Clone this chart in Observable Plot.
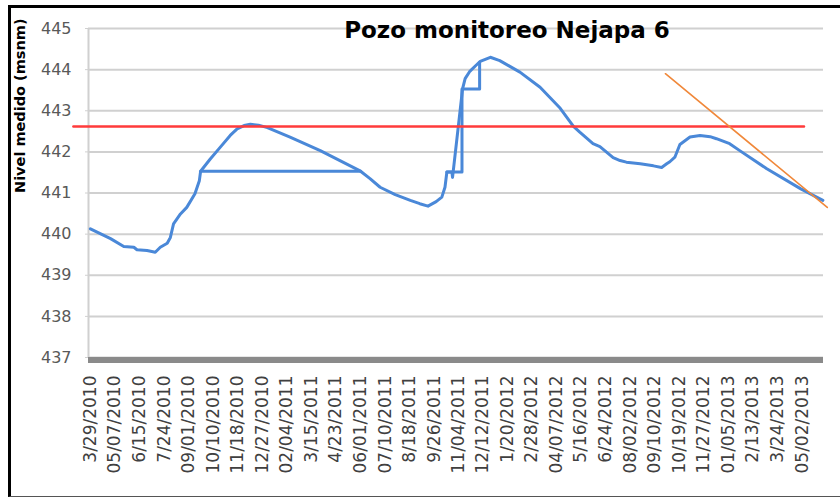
<!DOCTYPE html>
<html><head><meta charset="utf-8">
<script src="https://cdn.jsdelivr.net/npm/d3@7"></script>
<script src="https://cdn.jsdelivr.net/npm/@observablehq/plot@0.6"></script>
<style>
html,body{margin:0;padding:0;background:#fff;}
#wrap{position:relative;width:840px;height:497px;overflow:hidden;}
#border{position:absolute;left:8px;top:5px;width:840px;height:492px;box-sizing:border-box;border-top:3px solid #000;border-left:3px solid #000;border-bottom:1px solid #555;pointer-events:none;}
</style></head><body>
<div id="wrap"><div id="chart"></div><div id="border"></div></div>
<script>
const titulo = "Pozo monitoreo Nejapa 6";
const etiquetaY = "Nivel medido (msnm)";
const yTicks = [437, 438, 439, 440, 441, 442, 443, 444, 445];
const xTickLabels = ["3/29/2010","05/07/2010","6/15/2010","7/24/2010","09/01/2010","10/10/2010","11/18/2010","12/27/2010","02/04/2011","3/15/2011","4/23/2011","06/01/2011","07/10/2011","8/18/2011","9/26/2011","11/04/2011","12/12/2011","1/20/2012","2/28/2012","04/07/2012","5/16/2012","6/24/2012","08/02/2012","09/10/2012","10/19/2012","11/27/2012","01/05/2013","2/13/2013","3/24/2013","05/02/2013"];
const xDomain = ["2010-03-26", "2013-06-05"];

// Serie principal (nivel medido)
const fechas = ["2010-03-29","2010-04-30","2010-05-21","2010-06-06","2010-06-11","2010-06-27","2010-07-10","2010-07-18","2010-07-29","2010-08-03","2010-08-08","2010-08-19","2010-08-29","2010-09-11","2010-09-18","2010-09-20",
"2010-10-05","2010-10-21","2010-11-06","2010-11-17","2010-11-28","2010-12-08","2010-12-21","2011-01-04","2011-02-09","2011-03-29","2011-04-30","2011-06-01",
"2011-06-16","2011-07-02","2011-07-26","2011-08-19","2011-09-03","2011-09-16","2011-09-29","2011-10-08","2011-10-13","2011-10-16","2011-10-24","2011-10-25","2011-11-10","2011-11-14","2011-11-21","2011-12-01","2011-12-08","2011-12-24",
"2012-01-08","2012-01-24","2012-02-09","2012-03-12","2012-04-13","2012-05-04","2012-05-14","2012-06-04","2012-06-15","2012-07-06","2012-07-17","2012-07-27","2012-08-18","2012-09-08","2012-09-21","2012-09-29","2012-10-04","2012-10-12","2012-10-20","2012-11-05","2012-11-21","2012-12-07","2012-12-17",
"2013-01-07","2013-01-23","2013-03-07","2013-04-30","2013-06-04"];
const nivel = [440.13,439.89,439.70,439.68,439.62,439.60,439.56,439.68,439.78,439.92,440.25,440.49,440.65,440.98,441.30,441.53,
441.82,442.11,442.40,442.56,442.64,442.67,442.65,442.59,442.36,442.03,441.78,441.53,
441.35,441.14,440.96,440.82,440.74,440.68,440.79,440.90,441.14,441.51,441.51,441.38,443.54,443.78,443.95,444.10,444.20,444.30,
444.22,444.08,443.94,443.57,443.06,442.62,442.48,442.20,442.13,441.86,441.79,441.75,441.71,441.66,441.62,441.71,441.76,441.87,442.18,442.36,442.40,442.37,442.32,
442.20,442.03,441.59,441.10,440.82];

// Tramos escalonados de la misma serie
const tramoFechas = ["2010-09-20","2011-06-01","2011-10-16","2011-11-09","2011-11-09","2011-12-07","2011-12-07"];
const tramoNivel = [441.53,441.53,441.51,441.51,443.53,443.53,444.18];
const tramoId = [1,1,2,2,2,2,2];

// Nivel de referencia (rojo) y tendencia (naranja)
const refFechas = ["2010-03-02","2013-05-05"];
const refNivel = [442.62, 442.62];
const tendFechas = ["2012-09-27","2013-06-11"];
const tendNivel = [443.90, 440.65];

const parse = d3.timeParse("%Y-%m-%d");
const parseTick = d3.timeParse("%m/%d/%Y");
const serie = fechas.map((f, i) => ({fecha: parse(f), nivel: nivel[i]}));
const tramos = tramoFechas.map((f, i) => ({fecha: parse(f), nivel: tramoNivel[i], tramo: tramoId[i]}));
const referencia = refFechas.map((f, i) => ({fecha: parse(f), nivel: refNivel[i]}));
const tendencia = tendFechas.map((f, i) => ({fecha: parse(f), nivel: tendNivel[i]}));
const tickDates = xTickLabels.map(parseTick);
const labelByTime = new Map(tickDates.map((d, i) => [+d, xTickLabels[i]]));
const x0 = parse(xDomain[0]);
const azul = "#4a88d8";

const chart = Plot.plot({
  width: 840, height: 497,
  marginTop: 28, marginBottom: 140, marginLeft: 88, marginRight: 17,
  style: {fontFamily: "DejaVu Sans", background: "transparent", overflow: "visible"},
  x: {type: "time", domain: xDomain.map(parse)},
  y: {domain: [437, 445]},
  marks: [
    Plot.gridY(yTicks, {stroke: "#d0d0d0", strokeOpacity: 1, strokeWidth: 2}),
    Plot.ruleX([x0], {stroke: "#d0d0d0", strokeWidth: 2}),
    Plot.axisY(yTicks, {tickSize: 3, stroke: "#d0d0d0", tickPadding: 14, fontSize: 16, fill: "#595959", label: null}),
    Plot.axisX(tickDates, {tickFormat: d => labelByTime.get(+d), tickRotate: -90, tickSize: 0, tickPadding: 18, fontSize: 17, fill: "#404040", label: null}),
    Plot.ruleY([437], {stroke: "#8a8a8a", strokeWidth: 6, dy: 2.5}),
    Plot.line(tramos, {x: "fecha", y: "nivel", z: "tramo", stroke: azul, strokeWidth: 3}),
    Plot.line(serie, {x: "fecha", y: "nivel", stroke: azul, strokeWidth: 3}),
    Plot.line(referencia, {x: "fecha", y: "nivel", stroke: "#ff3b3b", strokeWidth: 2.5}),
    Plot.line(tendencia, {x: "fecha", y: "nivel", stroke: "#f0883a", strokeWidth: 1.6}),
    Plot.text([titulo], {text: d => d, frameAnchor: "top", dx: 51, dy: 9, lineAnchor: "bottom", fontSize: 23, fontWeight: "bold", fill: "#000"}),
    Plot.text([etiquetaY], {text: d => d, frameAnchor: "left", dx: -68.5, rotate: -90, fontSize: 14.5, fontWeight: "bold", fill: "#000"})
  ]
});
document.getElementById("chart").appendChild(chart);
</script>
</body></html>
